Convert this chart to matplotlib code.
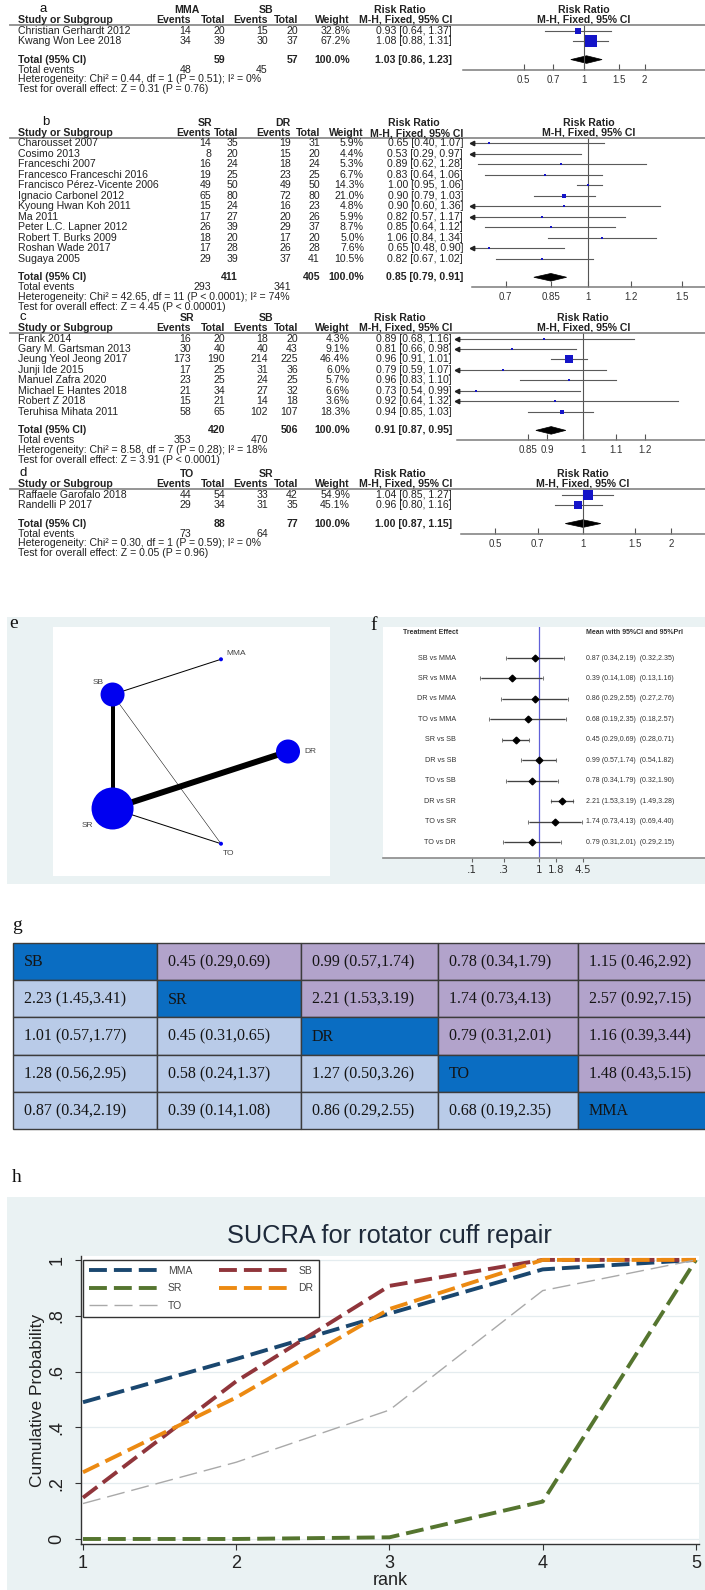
import numpy as np
import matplotlib
matplotlib.use("Agg")
import matplotlib.pyplot as plt
from matplotlib.patches import Polygon, Rectangle
from matplotlib.ticker import NullLocator

W, H = 705, 1590
SANS = ["Liberation Sans", "DejaVu Sans"]
SERIF = ["Liberation Serif", "DejaVu Serif"]
INK = "#222222"
STATA_BG = "#eaf2f3"

# ---------------- a: MMA vs SB ----------------
a_groups = ["MMA", "SB"]
a_studies = ["Christian Gerhardt 2012", "Kwang Won Lee 2018"]
a_events1 = [14, 34]
a_total1 = [20, 39]
a_events2 = [15, 30]
a_total2 = [20, 37]
a_weight = [32.8, 67.2]
a_rr = [0.93, 1.08]
a_lo = [0.64, 0.88]
a_hi = [1.37, 1.31]
a_pooled = [1.03, 0.86, 1.23]
a_sums = [59, 57, 48, 45]
a_het = "Heterogeneity: Chi² = 0.44, df = 1 (P = 0.51); I² = 0%"
a_test = "Test for overall effect: Z = 0.31 (P = 0.76)"
a_ticks = [0.5, 0.7, 1, 1.5, 2]

# ---------------- b: SR vs DR ----------------
b_groups = ["SR", "DR"]
b_studies = ["Charousset 2007", "Cosimo 2013", "Franceschi 2007",
             "Francesco Franceschi 2016", "Francisco Pérez-Vicente 2006",
             "Ignacio Carbonel 2012", "Kyoung Hwan Koh 2011", "Ma 2011",
             "Peter L.C. Lapner 2012", "Robert T. Burks 2009",
             "Roshan Wade 2017", "Sugaya 2005"]
b_events1 = [14, 8, 16, 19, 49, 65, 15, 17, 26, 18, 17, 29]
b_total1 = [35, 20, 24, 25, 50, 80, 24, 27, 39, 20, 28, 39]
b_events2 = [19, 15, 18, 23, 49, 72, 16, 20, 29, 17, 26, 37]
b_total2 = [31, 20, 24, 25, 50, 80, 23, 26, 37, 20, 28, 41]
b_weight = [5.9, 4.4, 5.3, 6.7, 14.3, 21.0, 4.8, 5.9, 8.7, 5.0, 7.6, 10.5]
b_rr = [0.65, 0.53, 0.89, 0.83, 1.00, 0.90, 0.90, 0.82, 0.85, 1.06, 0.65, 0.82]
b_lo = [0.40, 0.29, 0.62, 0.64, 0.95, 0.79, 0.60, 0.57, 0.64, 0.84, 0.48, 0.67]
b_hi = [1.07, 0.97, 1.28, 1.06, 1.06, 1.03, 1.36, 1.17, 1.12, 1.34, 0.90, 1.02]
b_pooled = [0.85, 0.79, 0.91]
b_sums = [411, 405, 293, 341]
b_het = "Heterogeneity: Chi² = 42.65, df = 11 (P < 0.0001); I² = 74%"
b_test = "Test for overall effect: Z = 4.45 (P < 0.00001)"
b_ticks = [0.7, 0.85, 1, 1.2, 1.5]

# ---------------- c: SR vs SB ----------------
c_groups = ["SR", "SB"]
c_studies = ["Frank 2014", "Gary M. Gartsman 2013", "Jeung Yeol Jeong 2017",
             "Junji Ide 2015", "Manuel Zafra 2020", "Michael E Hantes 2018",
             "Robert Z 2018", "Teruhisa Mihata 2011"]
c_events1 = [16, 30, 173, 17, 23, 21, 15, 58]
c_total1 = [20, 40, 190, 25, 25, 34, 21, 65]
c_events2 = [18, 40, 214, 31, 24, 27, 14, 102]
c_total2 = [20, 43, 225, 36, 25, 32, 18, 107]
c_weight = [4.3, 9.1, 46.4, 6.0, 5.7, 6.6, 3.6, 18.3]
c_rr = [0.89, 0.81, 0.96, 0.79, 0.96, 0.73, 0.92, 0.94]
c_lo = [0.68, 0.66, 0.91, 0.59, 0.83, 0.54, 0.64, 0.85]
c_hi = [1.16, 0.98, 1.01, 1.07, 1.10, 0.99, 1.32, 1.03]
c_pooled = [0.91, 0.87, 0.95]
c_sums = [420, 506, 353, 470]
c_het = "Heterogeneity: Chi² = 8.58, df = 7 (P = 0.28); I² = 18%"
c_test = "Test for overall effect: Z = 3.91 (P < 0.0001)"
c_ticks = [0.85, 0.9, 1, 1.1, 1.2]

# ---------------- d: TO vs SR ----------------
d_groups = ["TO", "SR"]
d_studies = ["Raffaele Garofalo 2018", "Randelli P 2017"]
d_events1 = [44, 29]
d_total1 = [54, 34]
d_events2 = [33, 31]
d_total2 = [42, 35]
d_weight = [54.9, 45.1]
d_rr = [1.04, 0.96]
d_lo = [0.85, 0.80]
d_hi = [1.27, 1.16]
d_pooled = [1.00, 0.87, 1.15]
d_sums = [88, 77, 73, 64]
d_het = "Heterogeneity: Chi² = 0.30, df = 1 (P = 0.59); I² = 0%"
d_test = "Test for overall effect: Z = 0.05 (P = 0.96)"
d_ticks = [0.5, 0.7, 1, 1.5, 2]

# ---------------- e: network ----------------
net_nodes = ["DR", "MMA", "SB", "SR", "TO"]
net_node_size = [12, 2, 12, 21, 2]
net_edges = [("SB", "MMA"), ("SB", "SR"), ("SR", "DR"), ("SB", "TO"), ("SR", "TO")]
net_edge_studies = [2, 8, 12, 1, 2]

# ---------------- f: network estimates ----------------
f_comparisons = ["SB vs MMA", "SR vs MMA", "DR vs MMA", "TO vs MMA", "SR vs SB",
                 "DR vs SB", "TO vs SB", "DR vs SR", "TO vs SR", "TO vs DR"]
f_mean = [0.87, 0.39, 0.86, 0.68, 0.45, 0.99, 0.78, 2.21, 1.74, 0.79]
f_ci_lo = [0.34, 0.14, 0.29, 0.19, 0.29, 0.57, 0.34, 1.53, 0.73, 0.31]
f_ci_hi = [2.19, 1.08, 2.55, 2.35, 0.69, 1.74, 1.79, 3.19, 4.13, 2.01]
f_pi_lo = [0.32, 0.13, 0.27, 0.18, 0.28, 0.54, 0.32, 1.49, 0.69, 0.29]
f_pi_hi = [2.35, 1.16, 2.76, 2.57, 0.71, 1.82, 1.90, 3.28, 4.40, 2.15]
f_ticks = [0.1, 0.3, 1, 1.8, 4.5]
f_tick_labels = [".1", ".3", "1", "1.8", "4.5"]

# ---------------- g: league table ----------------
g_cells = [
    ["SB", "0.45 (0.29,0.69)", "0.99 (0.57,1.74)", "0.78 (0.34,1.79)", "1.15 (0.46,2.92)"],
    ["2.23 (1.45,3.41)", "SR", "2.21 (1.53,3.19)", "1.74 (0.73,4.13)", "2.57 (0.92,7.15)"],
    ["1.01 (0.57,1.77)", "0.45 (0.31,0.65)", "DR", "0.79 (0.31,2.01)", "1.16 (0.39,3.44)"],
    ["1.28 (0.56,2.95)", "0.58 (0.24,1.37)", "1.27 (0.50,3.26)", "TO", "1.48 (0.43,5.15)"],
    ["0.87 (0.34,2.19)", "0.39 (0.14,1.08)", "0.86 (0.29,2.55)", "0.68 (0.19,2.35)", "MMA"],
]

# ---------------- h: SUCRA ----------------
h_rank = [1, 2, 3, 4, 5]
h_mma = [0.49, 0.645, 0.808, 0.966, 1.0]
h_sb = [0.148, 0.565, 0.907, 1.0, 1.0]
h_sr = [0.0, 0.0, 0.006, 0.134, 1.0]
h_dr = [0.239, 0.507, 0.824, 1.0, 1.0]
h_to = [0.127, 0.275, 0.462, 0.89, 1.0]


fig = plt.figure(figsize=(W / 100, H / 100), dpi=100)
fig.patch.set_facecolor("white")


def px_axes(x0, y0, x1, y1, zorder=1):
    return fig.add_axes([x0 / W, 1 - y1 / H, (x1 - x0) / W, (y1 - y0) / H], zorder=zorder)


back = px_axes(0, 0, W, H, zorder=-5)
back.set_xlim(0, W)
back.set_ylim(H, 0)
back.axis("off")

over = px_axes(0, 0, W, H, zorder=20)
over.set_xlim(0, W)
over.set_ylim(H, 0)
over.axis("off")


def txt(x, y, s, size=7.6, ha="left", weight="normal", family=SANS, color=INK):
    over.text(x, y, s, fontsize=size, ha=ha, va="center", fontweight=weight,
              family=family, color=color)


# ---------------- forest plots a-d ----------------
ROW = 10.47
COLS_ACD = dict(name=18, ev1=191, n1=225, ev2=268, n2=298, wt=350, rr=452,
                g1=187, g2=266, rrh=400)
COLS_B = dict(name=18, ev1=211, n1=238, ev2=291, n2=320, wt=364, rr=463,
              g1=205, g2=283, rrh=414)


def forest(tag, tag_x, top, cols, plot_left, xlim, groups, studies, ev1, n1, ev2,
           n2, weight, rr, lo, hi, pooled, sums, het, test, ticks):
    head2 = top + 10
    rule = top + 14.5
    rows = top + 20.5 + ROW * np.arange(len(studies))
    y_tot = rows[-1] + 18.6
    y_ev = y_tot + 10.1
    y_het = y_tot + 19.5
    y_test = y_tot + 29.3
    y_axis = y_ev

    txt(tag_x, top - 1, tag, size=9.5, color="#111")
    txt(cols["g1"], top, groups[0], ha="center", weight="bold")
    txt(cols["g2"], top, groups[1], ha="center", weight="bold")
    txt(cols["rrh"], top, "Risk Ratio", ha="center", weight="bold")
    txt(cols["name"], head2, "Study or Subgroup", weight="bold")
    for key, label in [("ev1", "Events"), ("n1", "Total"), ("ev2", "Events"),
                       ("n2", "Total"), ("wt", "Weight"), ("rr", "M-H, Fixed, 95% CI")]:
        txt(cols[key], head2, label, ha="right", weight="bold")
    over.plot([10, W], [rule, rule], color="#8c8c8c", lw=1.3)

    for i, y in enumerate(rows):
        txt(cols["name"], y, studies[i])
        txt(cols["ev1"], y, str(ev1[i]), ha="right")
        txt(cols["n1"], y, str(n1[i]), ha="right")
        txt(cols["ev2"], y, str(ev2[i]), ha="right")
        txt(cols["n2"], y, str(n2[i]), ha="right")
        txt(cols["wt"], y, f"{weight[i]:.1f}%", ha="right")
        txt(cols["rr"], y, f"{rr[i]:.2f} [{lo[i]:.2f}, {hi[i]:.2f}]", ha="right")

    txt(cols["name"], y_tot, "Total (95% CI)", weight="bold")
    txt(cols["n1"], y_tot, str(sums[0]), ha="right", weight="bold")
    txt(cols["n2"], y_tot, str(sums[1]), ha="right", weight="bold")
    txt(cols["wt"], y_tot, "100.0%", ha="right", weight="bold")
    txt(cols["rr"], y_tot, f"{pooled[0]:.2f} [{pooled[1]:.2f}, {pooled[2]:.2f}]",
        ha="right", weight="bold")
    txt(cols["name"], y_ev, "Total events")
    txt(cols["ev1"], y_ev, str(sums[2]), ha="right")
    txt(cols["ev2"], y_ev, str(sums[3]), ha="right")
    txt(cols["name"], y_het, het)
    txt(cols["name"], y_test, test)

    ax = px_axes(plot_left, rule, W, y_axis)
    ax.set_xscale("log")
    ax.set_xlim(*xlim)
    ax.set_ylim(y_axis, rule)
    ax.patch.set_alpha(0)
    for s in ["top", "left", "right"]:
        ax.spines[s].set_visible(False)
    ax.spines["bottom"].set_color("#7a7a7a")
    ax.spines["bottom"].set_linewidth(1.1)
    ax.set_yticks([])
    ax.set_xticks(ticks, [f"{t:g}" for t in ticks])
    ax.xaxis.set_minor_locator(NullLocator())
    ax.tick_params(axis="x", direction="in", length=4, width=0.8, color="#555",
                   pad=3.5, labelsize=7, labelcolor="#333")
    for lab in ax.get_xticklabels():
        lab.set_family(SANS)
    ax.axvline(1, color="#555", lw=0.8)

    for i, y in enumerate(rows):
        ax.plot([lo[i], hi[i]], [y, y], color="#5a5a5a", lw=0.8)
        if lo[i] < xlim[0]:
            ax.plot(xlim[0], y, marker="<", ms=3.2, color="#222", clip_on=False)
        side = max(0.18 * weight[i], 2.2)
        ax.plot(rr[i], y, "s", ms=side * 0.72, mfc="#1414c8", mec="#1414c8", mew=0)
    ax.add_patch(Polygon([(pooled[1], y_tot), (pooled[0], y_tot - 3.8),
                          (pooled[2], y_tot), (pooled[0], y_tot + 3.8)],
                         closed=True, facecolor="black", edgecolor="black", lw=0.5))

    ax.text(1, top, "Risk Ratio", ha="center", va="center", fontsize=7.6,
            fontweight="bold", family=SANS, color=INK)
    ax.text(1, head2, "M-H, Fixed, 95% CI", ha="center", va="center", fontsize=7.6,
            fontweight="bold", family=SANS, color=INK)
    ax.annotate(groups[0], (1, y_axis + 18.5), xytext=(-2.5, 0), textcoords="offset points",
                ha="right", va="center", fontsize=6.6, family=SANS, color="#555")
    ax.annotate(groups[1], (1, y_axis + 18.5), xytext=(2.5, 0), textcoords="offset points",
                ha="left", va="center", fontsize=6.6, family=SANS, color="#555")


forest("a", 40, 10, COLS_ACD, 463, (0.25, 4.0), a_groups, a_studies, a_events1,
       a_total1, a_events2, a_total2, a_weight, a_rr, a_lo, a_hi, a_pooled, a_sums,
       a_het, a_test, a_ticks)
forest("b", 42, 123, COLS_B, 472, (0.605, 1.653), b_groups, b_studies, b_events1,
       b_total1, b_events2, b_total2, b_weight, b_rr, b_lo, b_hi, b_pooled, b_sums,
       b_het, b_test, b_ticks)
forest("c", 20, 318, COLS_ACD, 457, (0.69, 1.43), c_groups, c_studies, c_events1,
       c_total1, c_events2, c_total2, c_weight, c_rr, c_lo, c_hi, c_pooled, c_sums,
       c_het, c_test, c_ticks)
forest("d", 20, 474, COLS_ACD, 461, (0.383, 2.61), d_groups, d_studies, d_events1,
       d_total1, d_events2, d_total2, d_weight, d_rr, d_lo, d_hi, d_pooled, d_sums,
       d_het, d_test, d_ticks)

# ---------------- e: network plot ----------------
back.add_patch(Rectangle((7, 617), W - 7, 267, facecolor=STATA_BG, edgecolor="none"))
txt(9, 624, "e", size=14, family=SERIF, color="#111")
txt(370, 625, "f", size=14, family=SERIF, color="#111")

ax_e = px_axes(53, 627, 330, 876)
ax_e.set_facecolor("white")
ax_e.set_xlim(-1.423, 1.433)
ax_e.set_ylim(-1.284, 1.284)
ax_e.set_xticks([])
ax_e.set_yticks([])
for s in ax_e.spines.values():
    s.set_visible(False)
angles = 2 * np.pi * np.arange(len(net_nodes)) / len(net_nodes)
node_xy = {n: (np.cos(a), np.sin(a)) for n, a in zip(net_nodes, angles)}
for (n1_, n2_), k in zip(net_edges, net_edge_studies):
    (x1, y1), (x2, y2) = node_xy[n1_], node_xy[n2_]
    ax_e.plot([x1, x2], [y1, y2], color="black", lw=0.36 * k,
              solid_capstyle="butt", zorder=1)
ax_e.scatter([node_xy[n][0] for n in net_nodes], [node_xy[n][1] for n in net_nodes],
             s=[(2 * 0.72 * r) ** 2 for r in net_node_size], color="#0000f0",
             edgecolors="none", zorder=3)
label_offsets = {"MMA": (4, 4, "left"), "SB": (-6, 9, "right"), "DR": (12, 0, "left"),
                 "SR": (-14, -12, "right"), "TO": (1, -7, "left")}
for n in net_nodes:
    dx, dy, ha = label_offsets[n]
    ax_e.annotate(n, node_xy[n], xytext=(dx, dy), textcoords="offset points",
                  ha=ha, va="center", fontsize=6, family=SANS, color="#444")

# ---------------- f: network forest ----------------
ax_f = px_axes(383, 627, W, 858)
ax_f.set_facecolor("white")
ax_f.set_xscale("log")
ax_f.set_xlim(0.0046, 306)
ax_f.set_ylim(858, 627)
for s in ["top", "left", "right"]:
    ax_f.spines[s].set_visible(False)
ax_f.spines["bottom"].set_color("#8a8a8a")
ax_f.spines["bottom"].set_linewidth(1.2)
ax_f.set_yticks([])
ax_f.set_xticks(f_ticks, f_tick_labels)
ax_f.xaxis.set_minor_locator(NullLocator())
ax_f.tick_params(axis="x", direction="out", length=3, color="#666", pad=2,
                 labelsize=7.5, labelcolor="#333")
ax_f.axvline(1, color="#6060d8", lw=0.9)
f_rows = 658 + 20.45 * np.arange(len(f_comparisons))
for i, y in enumerate(f_rows):
    ax_f.plot([f_pi_lo[i], f_pi_hi[i]], [y, y], color="#8a8a8a", lw=0.8)
    ax_f.plot([f_pi_lo[i], f_pi_hi[i]], [y, y], ls="none", marker="|", ms=3.5,
              mew=0.7, color="#777")
    ax_f.plot([f_ci_lo[i], f_ci_hi[i]], [y, y], color="#444", lw=0.9)
    ax_f.plot(f_mean[i], y, "D", ms=3.4, color="black")
    txt(456, y, f_comparisons[i], size=5.2, ha="right", color="#333")
    txt(586, y, f"{f_mean[i]:.2f} ({f_ci_lo[i]:.2f},{f_ci_hi[i]:.2f})  "
                f"({f_pi_lo[i]:.2f},{f_pi_hi[i]:.2f})", size=5, color="#333")
txt(403, 632, "Treatment Effect", size=5, weight="bold", color="#333")
txt(586, 632, "Mean with 95%CI and 95%PrI", size=5, weight="bold", color="#333")

# ---------------- g: league table ----------------
txt(12, 926, "g", size=14, family=SERIF, color="#111")
col_edges = [13, 157, 301, 438, 578, 718]
g_top, g_bottom = 943, 1129
ax_g = px_axes(col_edges[0], g_top, col_edges[-1], g_bottom)
ax_g.set_xlim(col_edges[0], col_edges[-1])
ax_g.set_ylim(5, 0)
ax_g.axis("off")
for i in range(5):
    for j in range(5):
        if i == j:
            fc = "#0a6dc2"
        elif j > i:
            fc = "#b2a3cb"
        else:
            fc = "#b9cbe8"
        x0, x1 = col_edges[j], col_edges[j + 1]
        ax_g.add_patch(Rectangle((x0, i), x1 - x0, 1, facecolor=fc, edgecolor="#3c3c3c",
                                 lw=1.0, clip_on=False))
        ax_g.text(x0 + 11, i + 0.52, g_cells[i][j], ha="left", va="center",
                  fontsize=11.5, family=SERIF, color="#141414")

# ---------------- h: SUCRA ----------------
back.add_patch(Rectangle((7, 1197), W - 7, H - 1197, facecolor=STATA_BG, edgecolor="none"))
txt(12, 1177, "h", size=14, family=SERIF, color="#111")
ax_h = px_axes(81, 1256, 699, 1544)
ax_h.set_facecolor("white")
ax_h.set_xlim(0.987, 5.02)
ax_h.set_ylim(-0.018, 1.014)
series = [("MMA", h_mma, "#1a476f", 2.8), ("SB", h_sb, "#90353b", 2.8),
          ("SR", h_sr, "#55752f", 2.8), ("DR", h_dr, "#ec8a12", 2.8),
          ("TO", h_to, "#a9a9a9", 1.0)]
handles = {}
for name, vals, color, lw in series:
    dash = (4.6, 1.8) if lw > 2 else (13, 5)
    (ln,) = ax_h.plot(h_rank, vals, color=color, lw=lw, dashes=dash, label=name,
                      zorder=3)
    handles[name] = ln
ax_h.set_yticks([0, 0.2, 0.4, 0.6, 0.8, 1])
ax_h.set_yticklabels(["0", ".2", ".4", ".6", ".8", "1"], rotation=90, va="center")
ax_h.set_xticks(h_rank)
ax_h.grid(axis="y", color="#e4ecef", lw=0.9)
ax_h.set_axisbelow(True)
for s in ["top", "right"]:
    ax_h.spines[s].set_visible(False)
for s in ["left", "bottom"]:
    ax_h.spines[s].set_color("#333")
    ax_h.spines[s].set_linewidth(1.0)
ax_h.tick_params(direction="out", length=4, color="#333", labelsize=13,
                 labelcolor="#222", pad=4)
ax_h.tick_params(axis="y", pad=7)
for lab in ax_h.get_xticklabels() + ax_h.get_yticklabels():
    lab.set_family(SANS)
ax_h.set_xlabel("rank", fontsize=13, family=SANS, color="#222", labelpad=0)
ax_h.set_ylabel("Cumulative Probability", fontsize=12.5, family=SANS, color="#222",
                labelpad=3)
order = ["MMA", "SR", "TO", "SB", "DR"]
leg = ax_h.legend([handles[n] for n in order], order, loc="upper left",
                  bbox_to_anchor=(1.0, 1.0), bbox_transform=ax_h.transData,
                  borderaxespad=0, ncol=2, handlelength=6.6, handletextpad=1.0,
                  columnspacing=2.6, labelspacing=0.73, borderpad=0.56,
                  fancybox=False, framealpha=1, edgecolor="#333",
                  prop={"family": SANS, "size": 7.5})
leg.get_frame().set_linewidth(1.0)
for t in leg.get_texts():
    t.set_color("#444")
txt(389, 1236, "SUCRA for rotator cuff repair", size=18.3, ha="center", color="#1e2a3a")

fig.savefig("out.png", dpi=100)
